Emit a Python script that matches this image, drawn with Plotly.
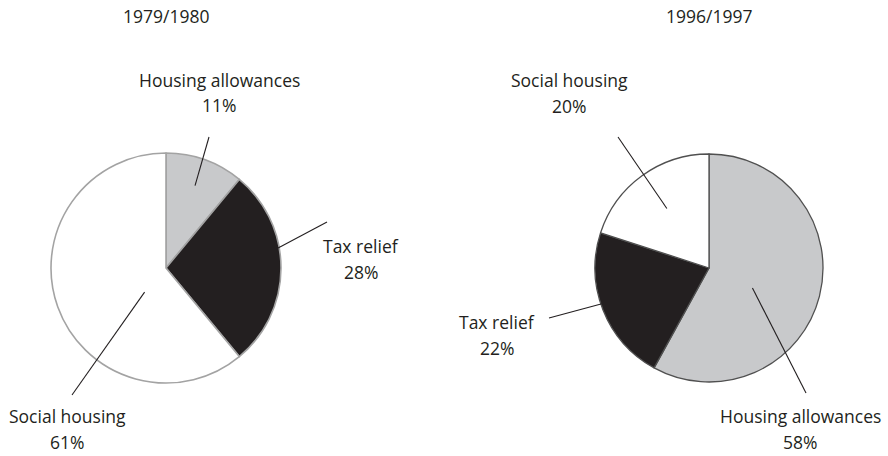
import math
import plotly.graph_objects as go

# Housing subsidy shares, clockwise from 12 o'clock
years = ["1979/1980", "1996/1997"]
labels_1979 = ["Housing allowances", "Tax relief", "Social housing"]
values_1979 = [11, 28, 61]
labels_1996 = ["Housing allowances", "Tax relief", "Social housing"]
values_1996 = [58, 22, 20]

fill = {"Housing allowances": "#c8c9cb", "Tax relief": "#231f20", "Social housing": "#ffffff"}

W, H = 888, 456
TXT = "#231f20"
FONT = "Open Sans"
FS = 17.5

def paper(x, y):
    return x / W, 1 - y / H

# pie placement in pixels: centre x, centre y, radius, outline colour
pies = [
    dict(year=years[0], labels=labels_1979, values=values_1979, cx=166, cy=268, r=115, edge="#a3a3a3", ew=1.6),
    dict(year=years[1], labels=labels_1996, values=values_1996, cx=709, cy=268, r=114, edge="#505050", ew=1.3),
]

# label layout per pie: (label, fraction along slice, fraction of radius, outer end px,
# text centre x, name line y, value line y)
callouts = [
    [("Housing allowances", 0.49, 0.76, (209, 137), 219, 80, 105),
     ("Tax relief", 0.40, 0.99, (327, 222), 361, 246, 272),
     ("Social housing", 0.37, 0.28, (72, 395), 67, 416, 442)],
    [("Housing allowances", 0.55, 0.42, (806, 393), 800, 416, 442),
     ("Tax relief", 0.54, 0.99, (549, 318), 497, 322, 348),
     ("Social housing", 0.51, 0.64, (618, 137), 569, 80, 106)],
]

fig = go.Figure()
shapes, annotations = [], []

def text_at(s, x, y):
    tx, ty = paper(x, y)
    annotations.append(dict(text=s, x=tx, y=ty, xref="paper", yref="paper", xanchor="center",
                            yanchor="middle", showarrow=False,
                            font=dict(size=FS, color=TXT, family=FONT)))

for p, calls in zip(pies, callouts):
    x0, y1 = paper(p["cx"] - p["r"], p["cy"] - p["r"])
    x1, y0 = paper(p["cx"] + p["r"], p["cy"] + p["r"])
    fig.add_trace(go.Pie(
        labels=p["labels"], values=p["values"], sort=False, direction="clockwise",
        rotation=0, textinfo="none", hoverinfo="skip", showlegend=False,
        marker=dict(colors=[fill[l] for l in p["labels"]], line=dict(color=p["edge"], width=p["ew"])),
        domain=dict(x=[x0, x1], y=[y0, y1]),
    ))
    text_at(p["year"], p["cx"], 16)

    total = sum(p["values"])
    spans = {}
    acc = 0
    for l, v in zip(p["labels"], p["values"]):
        spans[l] = (acc / total * 360, (acc + v) / total * 360, v)
        acc += v

    for name, t, rf, outer, tx, ny, vy in calls:
        a0, a1, v = spans[name]
        ang = math.radians(a0 + t * (a1 - a0))
        ix = p["cx"] + rf * p["r"] * math.sin(ang)
        iy = p["cy"] - rf * p["r"] * math.cos(ang)
        px0, py0 = paper(ix, iy)
        px1, py1 = paper(*outer)
        shapes.append(dict(type="line", xref="paper", yref="paper", x0=px0, y0=py0, x1=px1, y1=py1,
                           line=dict(color=TXT, width=1.1)))
        text_at(name, tx, ny)
        text_at(f"{v}%", tx, vy)

fig.update_layout(
    width=W, height=H, margin=dict(l=0, r=0, t=0, b=0),
    paper_bgcolor="white", plot_bgcolor="white",
    shapes=shapes, annotations=annotations,
)

fig.write_html("out.html")
